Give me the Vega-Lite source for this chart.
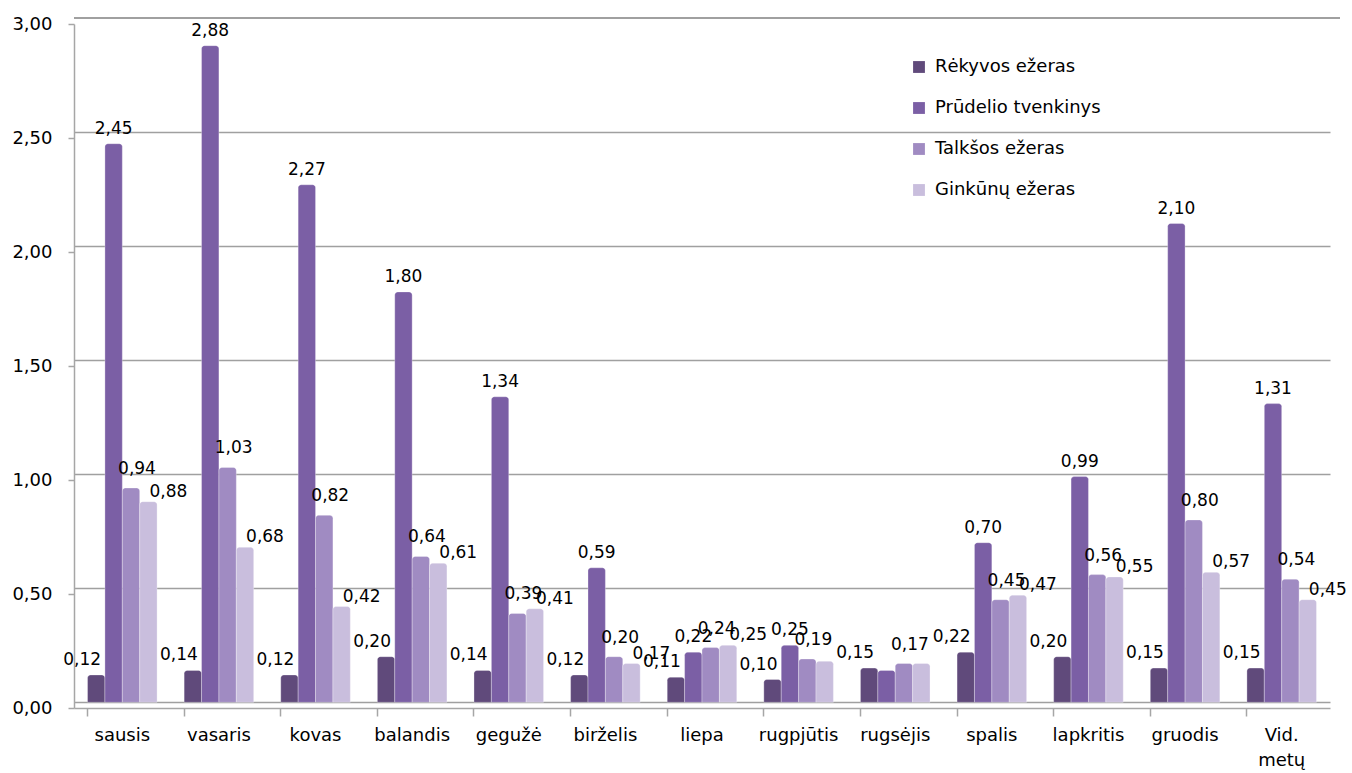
{
  "$schema": "https://vega.github.io/schema/vega-lite/v6.json",
  "autosize": {"type": "none"},
  "width": 1266,
  "height": 684,
  "padding": {"left": 74, "top": 24, "right": 12, "bottom": 65},
  "background": "white",
  "config": {
    "locale": {"number": {"decimal": ",", "thousands": " ", "grouping": [3], "currency": ["", " €"]}},
    "font": "DejaVu Sans",
    "view": {"stroke": null},
    "text": {"font": "DejaVu Sans", "fontSize": 17, "color": "#000000"}
  },
  "data": {
    "values": [
      {"men": "sausis", "serija": "Rėkyvos ežeras", "v": 0.12, "rodyti": true},
      {"men": "sausis", "serija": "Prūdelio tvenkinys", "v": 2.45, "rodyti": true},
      {"men": "sausis", "serija": "Talkšos ežeras", "v": 0.94, "rodyti": true},
      {"men": "sausis", "serija": "Ginkūnų ežeras", "v": 0.88, "rodyti": true},
      {"men": "vasaris", "serija": "Rėkyvos ežeras", "v": 0.14, "rodyti": true},
      {"men": "vasaris", "serija": "Prūdelio tvenkinys", "v": 2.88, "rodyti": true},
      {"men": "vasaris", "serija": "Talkšos ežeras", "v": 1.03, "rodyti": true},
      {"men": "vasaris", "serija": "Ginkūnų ežeras", "v": 0.68, "rodyti": true},
      {"men": "kovas", "serija": "Rėkyvos ežeras", "v": 0.12, "rodyti": true},
      {"men": "kovas", "serija": "Prūdelio tvenkinys", "v": 2.27, "rodyti": true},
      {"men": "kovas", "serija": "Talkšos ežeras", "v": 0.82, "rodyti": true},
      {"men": "kovas", "serija": "Ginkūnų ežeras", "v": 0.42, "rodyti": true},
      {"men": "balandis", "serija": "Rėkyvos ežeras", "v": 0.20, "rodyti": true},
      {"men": "balandis", "serija": "Prūdelio tvenkinys", "v": 1.80, "rodyti": true},
      {"men": "balandis", "serija": "Talkšos ežeras", "v": 0.64, "rodyti": true},
      {"men": "balandis", "serija": "Ginkūnų ežeras", "v": 0.61, "rodyti": true},
      {"men": "gegužė", "serija": "Rėkyvos ežeras", "v": 0.14, "rodyti": true},
      {"men": "gegužė", "serija": "Prūdelio tvenkinys", "v": 1.34, "rodyti": true},
      {"men": "gegužė", "serija": "Talkšos ežeras", "v": 0.39, "rodyti": true},
      {"men": "gegužė", "serija": "Ginkūnų ežeras", "v": 0.41, "rodyti": true},
      {"men": "birželis", "serija": "Rėkyvos ežeras", "v": 0.12, "rodyti": true},
      {"men": "birželis", "serija": "Prūdelio tvenkinys", "v": 0.59, "rodyti": true},
      {"men": "birželis", "serija": "Talkšos ežeras", "v": 0.20, "rodyti": true},
      {"men": "birželis", "serija": "Ginkūnų ežeras", "v": 0.17, "rodyti": true},
      {"men": "liepa", "serija": "Rėkyvos ežeras", "v": 0.11, "rodyti": true},
      {"men": "liepa", "serija": "Prūdelio tvenkinys", "v": 0.22, "rodyti": true},
      {"men": "liepa", "serija": "Talkšos ežeras", "v": 0.24, "rodyti": true},
      {"men": "liepa", "serija": "Ginkūnų ežeras", "v": 0.25, "rodyti": true},
      {"men": "rugpjūtis", "serija": "Rėkyvos ežeras", "v": 0.10, "rodyti": true},
      {"men": "rugpjūtis", "serija": "Prūdelio tvenkinys", "v": 0.25, "rodyti": true},
      {"men": "rugpjūtis", "serija": "Talkšos ežeras", "v": 0.19, "rodyti": true},
      {"men": "rugpjūtis", "serija": "Ginkūnų ežeras", "v": 0.18, "rodyti": false},
      {"men": "rugsėjis", "serija": "Rėkyvos ežeras", "v": 0.15, "rodyti": true},
      {"men": "rugsėjis", "serija": "Prūdelio tvenkinys", "v": 0.14, "rodyti": false},
      {"men": "rugsėjis", "serija": "Talkšos ežeras", "v": 0.17, "rodyti": true},
      {"men": "rugsėjis", "serija": "Ginkūnų ežeras", "v": 0.17, "rodyti": false},
      {"men": "spalis", "serija": "Rėkyvos ežeras", "v": 0.22, "rodyti": true},
      {"men": "spalis", "serija": "Prūdelio tvenkinys", "v": 0.70, "rodyti": true},
      {"men": "spalis", "serija": "Talkšos ežeras", "v": 0.45, "rodyti": true},
      {"men": "spalis", "serija": "Ginkūnų ežeras", "v": 0.47, "rodyti": true},
      {"men": "lapkritis", "serija": "Rėkyvos ežeras", "v": 0.20, "rodyti": true},
      {"men": "lapkritis", "serija": "Prūdelio tvenkinys", "v": 0.99, "rodyti": true},
      {"men": "lapkritis", "serija": "Talkšos ežeras", "v": 0.56, "rodyti": true},
      {"men": "lapkritis", "serija": "Ginkūnų ežeras", "v": 0.55, "rodyti": true},
      {"men": "gruodis", "serija": "Rėkyvos ežeras", "v": 0.15, "rodyti": true},
      {"men": "gruodis", "serija": "Prūdelio tvenkinys", "v": 2.10, "rodyti": true},
      {"men": "gruodis", "serija": "Talkšos ežeras", "v": 0.80, "rodyti": true},
      {"men": "gruodis", "serija": "Ginkūnų ežeras", "v": 0.57, "rodyti": true},
      {"men": "Vid. metų", "serija": "Rėkyvos ežeras", "v": 0.15, "rodyti": true},
      {"men": "Vid. metų", "serija": "Prūdelio tvenkinys", "v": 1.31, "rodyti": true},
      {"men": "Vid. metų", "serija": "Talkšos ežeras", "v": 0.54, "rodyti": true},
      {"men": "Vid. metų", "serija": "Ginkūnų ežeras", "v": 0.45, "rodyti": true}
    ]
  },
  "encoding": {
    "x": {
      "field": "men",
      "type": "nominal",
      "sort": null,
      "scale": {"range": [0, 1256], "paddingInner": 0.28, "paddingOuter": 0.14},
      "axis": {
        "title": null,
        "labelAngle": 0,
        "labelFont": "DejaVu Sans",
        "labelFontSize": 18,
        "labelColor": "#000000",
        "labelPadding": 10,
        "labelLineHeight": 25,
        "labelExpr": "split(datum.label, ' ')",
        "bandPosition": 0,
        "domainColor": "#A6A6A6",
        "domainWidth": 1.5,
        "tickColor": "#A6A6A6",
        "tickWidth": 1.5,
        "tickSize": 8,
        "grid": false
      }
    }
  },
  "layer": [
    {
      "encoding": {
        "y": {
          "field": "v",
          "type": "quantitative",
          "scale": {"domain": [-0.025, 2.975], "nice": false, "zero": false},
          "axis": {
            "orient": "left",
            "title": null,
            "values": [0, 0.5, 1, 1.5, 2, 2.5],
            "labels": false,
            "ticks": false,
            "domain": false,
            "grid": true,
            "gridColor": "#A0A0A0",
            "gridWidth": 1.6
          }
        }
      },
      "layer": [
        {
          "mark": {"type": "rule", "color": "#A0A0A0", "strokeWidth": 1.6},
          "encoding": {"y": {"datum": 3}, "x": null}
        },
        {
          "mark": {"type": "bar", "cornerRadiusTopLeft": 3, "cornerRadiusTopRight": 3, "stroke": "#FFFFFF", "strokeOpacity": 0.3, "strokeWidth": 1},
          "encoding": {
            "xOffset": {
              "field": "serija",
              "type": "nominal",
              "sort": ["Rėkyvos ežeras", "Prūdelio tvenkinys", "Talkšos ežeras", "Ginkūnų ežeras"]
            },
            "y2": {"datum": 0},
            "color": {
              "field": "serija",
              "type": "nominal",
              "sort": ["Rėkyvos ežeras", "Prūdelio tvenkinys", "Talkšos ežeras", "Ginkūnų ežeras"],
              "scale": {
                "domain": ["Rėkyvos ežeras", "Prūdelio tvenkinys", "Talkšos ežeras", "Ginkūnų ežeras"],
                "range": ["#604A7B", "#7B5FA5", "#A08BC2", "#C9BEDD"]
              },
              "legend": {
                "title": null,
                "orient": "none",
                "legendX": 836,
                "legendY": 34,
                "symbolType": "square",
                "symbolSize": 140,
                "symbolStrokeWidth": 0,
                "labelFont": "DejaVu Sans",
                "labelFontSize": 18,
                "labelColor": "#000000",
                "labelLimit": 320,
                "labelOffset": 7,
                "rowPadding": 23
              }
            }
          }
        },
        {
          "transform": [{"filter": "datum.rodyti && datum.serija == 'Rėkyvos ežeras'"}],
          "mark": {"type": "text", "baseline": "alphabetic", "dx": -14, "dy": -10},
          "encoding": {
            "xOffset": {"field": "serija", "type": "nominal", "sort": ["Rėkyvos ežeras", "Prūdelio tvenkinys", "Talkšos ežeras", "Ginkūnų ežeras"]},
            "text": {"field": "v", "type": "quantitative", "format": ".2f"}
          }
        },
        {
          "transform": [{"filter": "datum.rodyti && datum.serija == 'Prūdelio tvenkinys'"}],
          "mark": {"type": "text", "baseline": "alphabetic", "dx": 0, "dy": -10},
          "encoding": {
            "xOffset": {"field": "serija", "type": "nominal", "sort": ["Rėkyvos ežeras", "Prūdelio tvenkinys", "Talkšos ežeras", "Ginkūnų ežeras"]},
            "text": {"field": "v", "type": "quantitative", "format": ".2f"}
          }
        },
        {
          "transform": [{"filter": "datum.rodyti && datum.serija == 'Talkšos ežeras'"}],
          "mark": {"type": "text", "baseline": "alphabetic", "dx": 6, "dy": -14},
          "encoding": {
            "xOffset": {"field": "serija", "type": "nominal", "sort": ["Rėkyvos ežeras", "Prūdelio tvenkinys", "Talkšos ežeras", "Ginkūnų ežeras"]},
            "text": {"field": "v", "type": "quantitative", "format": ".2f"}
          }
        },
        {
          "transform": [{"filter": "datum.rodyti && datum.serija == 'Ginkūnų ežeras'"}],
          "mark": {"type": "text", "baseline": "alphabetic", "dx": 20, "dy": -5},
          "encoding": {
            "xOffset": {"field": "serija", "type": "nominal", "sort": ["Rėkyvos ežeras", "Prūdelio tvenkinys", "Talkšos ežeras", "Ginkūnų ežeras"]},
            "text": {"field": "v", "type": "quantitative", "format": ".2f"}
          }
        }
      ]
    },
    {
      "mark": {"type": "tick", "opacity": 0},
      "encoding": {
        "y": {
          "field": "v",
          "type": "quantitative",
          "scale": {"domain": [0, 3], "nice": false},
          "axis": {
            "orient": "left",
            "title": null,
            "values": [0, 0.5, 1, 1.5, 2, 2.5, 3],
            "format": ".2f",
            "labelFont": "DejaVu Sans",
            "labelFontSize": 18,
            "labelColor": "#000000",
            "labelPadding": 16,
            "domainColor": "#A6A6A6",
            "domainWidth": 1.5,
            "tickColor": "#A6A6A6",
            "tickWidth": 1.5,
            "tickSize": 6,
            "grid": false
          }
        }
      }
    }
  ],
  "resolve": {"scale": {"y": "independent"}, "axis": {"y": "independent"}}
}
